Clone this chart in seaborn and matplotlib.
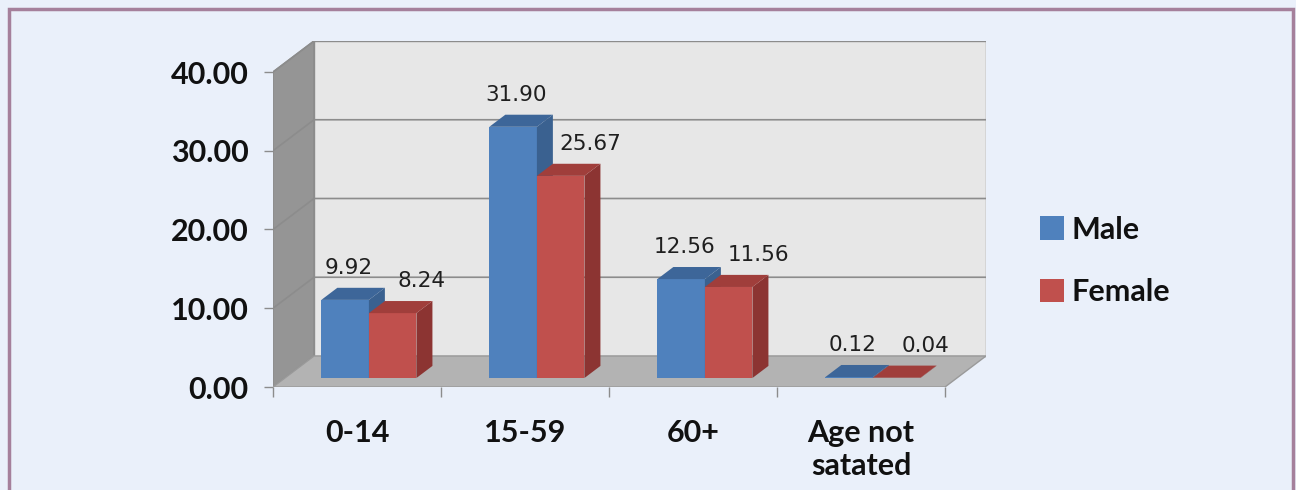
import matplotlib
matplotlib.use("Agg")
import matplotlib.pyplot as plt
from matplotlib.patches import Polygon, Rectangle, Patch
import pandas as pd
import seaborn as sns

categories = ["0-14", "15-59", "60+", "Age not\nsatated"]
series = ["Male", "Female"]
male = [9.92, 31.90, 12.56, 0.12]
female = [8.24, 25.67, 11.56, 0.04]
y_ticks = [0, 10, 20, 30, 40]

BG = "#eaf0fa"
FRONT = {"Male": "#4f81bd", "Female": "#c0504d"}
SIDE = {"Male": "#3a6190", "Female": "#8c3432"}
TOP = {"Male": "#3d6699", "Female": "#a03e3b"}
LABEL_SHIFT = {"Male": 0.02, "Female": 0.175}  # excel nudges the labels sideways
GRID = "#8c8c8c"

W, H, DPI = 1296, 490, 100

# pixel layout of the pseudo-3d box (front plane + back offset)
px_left, px_right = 273, 945
px_zero, px_top = 387, 72
off_px_x, off_px_y = 41, 31
unit_x = (px_right - px_left) / len(categories)
unit_y = (px_zero - px_top) / 40.0
dx = off_px_x / unit_x
dy = off_px_y / unit_y
f0, f1 = 0.29, 0.68  # depth range of bars

sns.set_theme(style="white")
plt.rcParams["font.family"] = ["Lato", "DejaVu Sans"]

fig = plt.figure(figsize=(W / DPI, H / DPI), dpi=DPI, facecolor=BG)
ax = fig.add_axes([
	px_left / W,
	(H - px_zero) / H,
	(px_right + off_px_x - px_left) / W,
	(px_zero - px_top + off_px_y) / H,
])
ax.set_facecolor("none")

df = pd.DataFrame({
	"group": categories * 2,
	"sex": ["Male"] * len(categories) + ["Female"] * len(categories),
	"value": male + female,
})

sns.barplot(
	data=df, x="group", y="value", hue="sex",
	order=categories, hue_order=series, palette=FRONT,
	width=0.566, saturation=1, edgecolor="none", legend=False, ax=ax,
)

x0, x1 = -0.5, len(categories) - 0.5

# walls and floor
left_wall = Polygon([(x0, 0), (x0, 40), (x0 + dx, 40 + dy), (x0 + dx, dy)],
	closed=True, facecolor="#959595", edgecolor=GRID, lw=1, zorder=0)
back_wall = Polygon([(x0 + dx, dy), (x0 + dx, 40 + dy), (x1 + dx, 40 + dy), (x1 + dx, dy)],
	closed=True, facecolor="#e7e7e7", edgecolor=GRID, lw=1, zorder=0)
floor = Polygon([(x0, 0), (x1, 0), (x1 + dx, dy), (x0 + dx, dy)],
	closed=True, facecolor="#b3b3b3", edgecolor="#9a9a9a", lw=1, zorder=1)
for p in (left_wall, back_wall, floor):
	ax.add_patch(p)
for t in y_ticks[1:]:
	ax.plot([x0, x0 + dx, x1 + dx], [t, t + dy, t + dy], color=GRID, lw=1.2, zorder=1)

# turn flat bars into boxes
bars = []
for name, container in zip(series, ax.containers):
	for bar in container:
		bars.append((name, bar))
bars.sort(key=lambda b: b[1].get_x())
for rank, (name, bar) in enumerate(bars):
	bx, bw, bh = bar.get_x(), bar.get_width(), bar.get_height()
	bx += f0 * dx
	by = f0 * dy
	bar.set_x(bx)
	bar.set_y(by)
	z = 3 + rank * 3
	bar.set_zorder(z)
	sdx, sdy = (f1 - f0) * dx, (f1 - f0) * dy
	side = Polygon([(bx + bw, by), (bx + bw, by + bh), (bx + bw + sdx, by + bh + sdy), (bx + bw + sdx, by + sdy)],
		closed=True, facecolor=SIDE[name], edgecolor="none", zorder=z + 1)
	top = Polygon([(bx, by + bh), (bx + bw, by + bh), (bx + bw + sdx, by + bh + sdy), (bx + sdx, by + bh + sdy)],
		closed=True, facecolor=TOP[name], edgecolor="none", zorder=z + 2)
	ax.add_patch(side)
	ax.add_patch(top)
	ax.text(bx + bw / 2 + LABEL_SHIFT[name], bh + f1 * dy + 2.55, f"{bh:.2f}",
		ha="center", va="center", fontsize=15.5, family="DejaVu Sans", color="#1f1f1f", zorder=100)

ax.set_xlim(x0, x1 + dx)
ax.set_ylim(0, 40 + dy)
for s in ax.spines.values():
	s.set_visible(False)

ax.set_yticks(y_ticks, [f"{t:.2f}" for t in y_ticks])
ax.set_xticks(range(len(categories)), categories)
ax.set_xticks([x0 + i for i in range(len(categories) + 1)], minor=True)
ax.tick_params(axis="y", left=True, length=6.5, width=1, color=GRID, pad=11,
	labelsize=22, labelcolor="#111111")
ax.tick_params(axis="x", which="major", bottom=True, length=0, pad=23,
	labelsize=22, labelcolor="#111111")
ax.tick_params(axis="x", which="minor", bottom=True, length=7, width=1, color=GRID)
for lab in ax.get_xticklabels() + ax.get_yticklabels():
	lab.set_fontweight("bold")
ax.set_xlabel("")
ax.set_ylabel("")

handles = [Patch(facecolor=FRONT[s], edgecolor="none") for s in series]
fig.legend(handles, series, loc="center left", bbox_to_anchor=(1012 / W, 1 - 261 / H),
	frameon=False, prop={"family": "Lato", "weight": "bold", "size": 22},
	handlelength=0.8, handleheight=0.8, handletextpad=0.25, labelspacing=1.13,
	labelcolor="#111111")

border = Rectangle((9 / W, -0.05), (1293 - 9) / W, (H - 9) / H + 0.05,
	transform=fig.transFigure, fill=False, edgecolor="#a5809b", lw=2.5)
fig.patches.append(border)

fig.savefig("out.png", dpi=DPI, facecolor=BG)
